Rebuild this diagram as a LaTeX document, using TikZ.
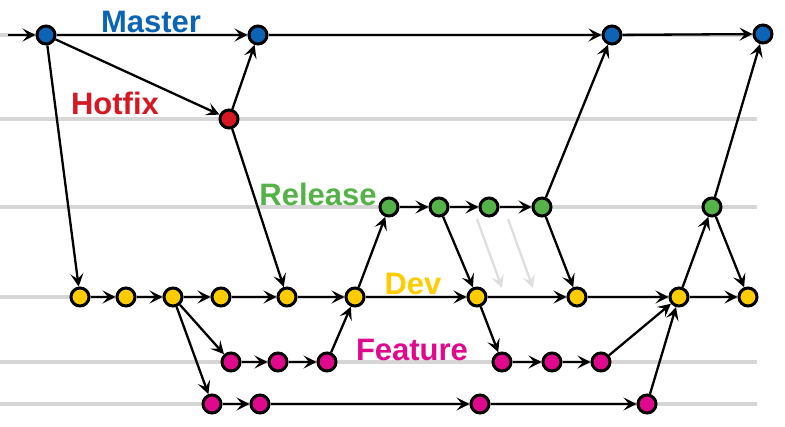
\documentclass[tikz,border=0pt]{standalone}
\usepackage{fontspec}
\setmainfont{Liberation Sans}
\usepackage{tikz}
\usetikzlibrary{arrows.meta}

\definecolor{mastercol}{RGB}{12,100,180}
\definecolor{hotfixcol}{RGB}{214,24,36}
\definecolor{releasecol}{RGB}{84,178,72}
\definecolor{devcol}{RGB}{255,204,0}
\definecolor{featurecol}{RGB}{224,8,140}

\tikzset{
  commit/.style={draw, circle, line width=3pt, minimum size=18pt, inner sep=0pt},
  mastercommit/.style={commit, fill=mastercol},
  hotfixcommit/.style={commit, fill=hotfixcol},
  releasecommit/.style={commit, fill=releasecol},
  devcommit/.style={commit, fill=devcol},
  featurecommit/.style={commit, fill=featurecol},
  flow/.style={-{Stealth[length=13pt, width=13pt, inset=5.5pt]}, line width=2.3pt},
  ghost/.style={flow, draw=black!13},
  lane/.style={line width=4pt, draw=black!16},
  branchname/.style={font=\bfseries\fontsize{31}{31}\selectfont, inner sep=0pt}
}

\begin{document}
\begin{tikzpicture}[x=1pt, y=-1pt]
				\useasboundingbox (0,0) rectangle (785,427);
				
				% Lanes
				\draw[lane] (0,35) -- (773,35);
				\foreach \y in {119,207,297,362,404}
					\draw[lane] (0,\y) -- (757,\y);
				
				% Labels
				\node (lmaster) [branchname, text=mastercol] at (151,22) {Master};
				\node (lhotfix) [branchname, text=hotfixcol] at (115,103) {Hotfix};
				\node (lrelease) [branchname, text=releasecol] at (318,194) {Release};
				\node (ldev) [branchname, text=devcol] at (413,284) {Dev};
				\node (lfeature) [branchname, text=featurecol] at (412,350) {Feature};
				
				% Commits
				\coordinate (start) at (8,35);
				\node (m1) [mastercommit] at (46,35) {};
				\node (m2) [mastercommit] at (258,35) {};
				\node (m3) [mastercommit] at (612,35) {};
				\node (m4) [mastercommit] at (763,34) {};
				
				\node (h1) [hotfixcommit] at (229,119) {};
				
				\node (r1) [releasecommit] at (389,207) {};
				\node (r2) [releasecommit] at (439,207) {};
				\node (r3) [releasecommit] at (489,207) {};
				\node (r4) [releasecommit] at (542,207) {};
				\node (r5) [releasecommit] at (712,207) {};
				
				\node (d1) [devcommit] at (80,297) {};
				\node (d2) [devcommit] at (126,297) {};
				\node (d3) [devcommit] at (173,297) {};
				\node (d4) [devcommit] at (221,297) {};
				\node (d5) [devcommit] at (287,297) {};
				\node (d6) [devcommit] at (355,297) {};
				\node (d7) [devcommit] at (477,297) {};
				\node (d8) [devcommit] at (577,297) {};
				\node (d9) [devcommit] at (679,297) {};
				\node (d10) [devcommit] at (748,297) {};
				
				\node (f1) [featurecommit] at (231,362) {};
				\node (f2) [featurecommit] at (278,362) {};
				\node (f3) [featurecommit] at (327,362) {};
				\node (f4) [featurecommit] at (502,362) {};
				\node (f5) [featurecommit] at (552,362) {};
				\node (f6) [featurecommit] at (601,362) {};
				
				\node (g1) [featurecommit] at (212,404) {};
				\node (g2) [featurecommit] at (260,404) {};
				\node (g3) [featurecommit] at (480,404) {};
				\node (g4) [featurecommit] at (647,404) {};
				
				\coordinate (ga1) at (477,219);
				\coordinate (gb1) at (502,288);
				\coordinate (ga2) at (508,219);
				\coordinate (gb2) at (533,288);
				
				% Arrows
				\draw[ghost] (ga1) -- (gb1);
				\draw[ghost] (ga2) -- (gb2);
				
				\draw[flow] (start) -- (m1);
				\draw[flow] (m1) -- (m2);
				\draw[flow] (m2) -- (m3);
				\draw[flow] (m3) -- (m4);
				\draw[flow] (m1) -- (h1);
				\draw[flow] (h1) -- (m2);
				\draw[flow] (h1) -- (d5);
				\draw[flow] (m1) -- (d1);
				
				\draw[flow] (d1) -- (d2);
				\draw[flow] (d2) -- (d3);
				\draw[flow] (d3) -- (d4);
				\draw[flow] (d4) -- (d5);
				\draw[flow] (d5) -- (d6);
				\draw[flow] (d6) -- (d7);
				\draw[flow] (d7) -- (d8);
				\draw[flow] (d8) -- (d9);
				\draw[flow] (d9) -- (d10);
				
				\draw[flow] (d6) -- (r1);
				\draw[flow] (r1) -- (r2);
				\draw[flow] (r2) -- (r3);
				\draw[flow] (r3) -- (r4);
				\draw[flow] (r2) -- (d7);
				\draw[flow] (r4) -- (d8);
				\draw[flow] (r4) -- (m3);
				
				\draw[flow] (d3) -- (f1);
				\draw[flow] (f1) -- (f2);
				\draw[flow] (f2) -- (f3);
				\draw[flow] (f3) -- (d6);
				\draw[flow] (d7) -- (f4);
				\draw[flow] (f4) -- (f5);
				\draw[flow] (f5) -- (f6);
				\draw[flow] (f6) -- (d9);
				
				\draw[flow] (d3) -- (g1);
				\draw[flow] (g1) -- (g2);
				\draw[flow] (g2) -- (g3);
				\draw[flow] (g3) -- (g4);
				\draw[flow] (g4) -- (d9);
				
				\draw[flow] (d9) -- (r5);
				\draw[flow] (r5) -- (m4);
				\draw[flow] (r5) -- (d10);
				
			\end{tikzpicture}
\end{document}
